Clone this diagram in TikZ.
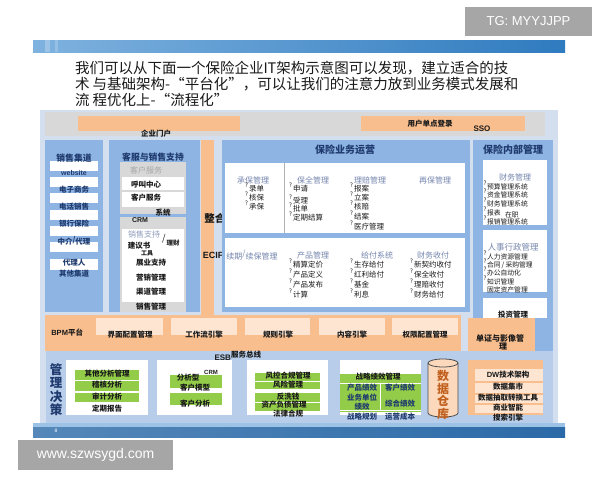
\documentclass[tikz,border=0pt]{standalone}
\usepackage{fontspec}
\setmainfont{Noto Sans CJK SC}
\newfontfamily\lat{Liberation Sans}
\definecolor{bgp}{HTML}{D3DEEE}
\definecolor{colblue}{HTML}{8EB4E3}
\definecolor{orng}{HTML}{F8BE8E}
\definecolor{lorng}{HTML}{FDE5D2}
\definecolor{grn}{HTML}{92CC48}
\definecolor{navy}{HTML}{1F3A6E}
\definecolor{sub}{HTML}{7485AD}
\definecolor{gry}{HTML}{D8D8D8}
\definecolor{panelB}{HTML}{B7CDEA}
\definecolor{slide}{HTML}{2F7BBF}
\definecolor{slideL}{HTML}{7FB2DF}
\definecolor{footer}{HTML}{2B6AA8}
\definecolor{footerL}{HTML}{9CC2E5}
\definecolor{wm}{HTML}{A6A6A6}
\definecolor{cyl}{HTML}{FCD9BC}
\definecolor{cyltext}{HTML}{C0601E}
\definecolor{txt}{HTML}{1A1A1A}
\tikzset{
 tx/.style={inner sep=0pt,outer sep=0pt,text=txt,font=\fontsize{8}{9}\selectfont},
 tb/.style={tx,font=\bfseries\fontsize{7.5}{8}\selectfont},
 c1/.style={tx,text=navy,font=\bfseries\fontsize{7.5}{8}\selectfont},
 ttl/.style={tx,text=navy,font=\bfseries\fontsize{8.8}{10}\selectfont},
 ttlb/.style={tx,text=navy,font=\bfseries\fontsize{10}{11}\selectfont},
 sbt/.style={tx,text=sub,font=\fontsize{8}{9}\selectfont},
 it/.style={tx,anchor=west,font=\fontsize{7.5}{8}\selectfont},
 its/.style={tx,anchor=west,font=\fontsize{6.8}{7}\selectfont},
 qm/.style={tx,font=\fontsize{6}{6}\selectfont},
 latb/.style={tx,text=navy,font=\lat\bfseries\fontsize{7}{8}\selectfont},
 hd/.style={tx,anchor=west,text=black!90,font=\fontsize{14.5}{15}\selectfont},
}
\begin{document}
\begin{tikzpicture}[x=1pt,y=-1pt]
\useasboundingbox (0,0) rectangle (600,480);
\fill[white] (0,0) rectangle (600,480);
% watermarks
\fill[wm] (465,7) rectangle (592,36);
\node[tx,text=white,font=\lat\fontsize{13}{13}\selectfont] (wm1) at (528.5,21.5) {TG: MYYJJPP};
\fill[wm] (18,440) rectangle (173,470);
\node[tx,text=white,font=\lat\fontsize{14}{14}\selectfont] (wm2) at (95.5,455) {www.szwsygd.com};
% slide top bar
\shade[left color=slideL,right color=slide] (33,40) rectangle (565,52);
\fill[white,opacity=0.25] (45,40) rectangle (50,52);
\fill[white,opacity=0.2] (55,40) rectangle (58,52);
% header text
\node[hd] (h1) at (75,68) {我们可以从下面一个保险企业IT架构示意图可以发现，建立适合的技};
\node[hd] (h2) at (75,84) {术\ 与基础架构-“平台化”，可以让我们的注意力放到业务模式发展和};
\node[hd] (h3) at (75,100) {流\ 程优化上-“流程化”};
% main panel
\fill[bgp] (40,110) rectangle (558,425);
\fill[gry] (45,112) rectangle (545,136);
\fill[orng] (78,116) rectangle (240,131);
\fill[orng] (361,116) rectangle (525,131);
\node[tb] (portal) at (156,134) {企业门户};
\node[tb] (sso1) at (430,124) {用户单点登录};
\node[latb,text=txt,font=\lat\bfseries\fontsize{8}{8}\selectfont] (sso2) at (482,129) {SSO};
% column 1
\fill[colblue] (45,140) rectangle (103,312);
\foreach \ya/\yb in {161/171,177/187,193/203,210/220,226/236,242/252,259/270} \fill[white] (50,\ya) rectangle (98,\yb);
\node[ttl] (c1t) at (74,158) {销售集道};
\node[latb] (c1a) at (74,173) {website};
\foreach \t/\yy [count=\i] in {电子商务/190,电话销售/207,银行保险/224,代理人/263,其他集道/274}
  \node[c1] (c1b\i) at (74,\yy) {\t};
\node[c1] (c1c) at (74,241) {中介\raisebox{2.5pt}{\itshape/}代理};
% column 2
\fill[colblue] (109,140) rectangle (200,312);
\fill[gry] (120,162) rectangle (186,214);
\fill[white] (122,177) rectangle (184,190);
\fill[white] (122,192) rectangle (184,207);
\fill[gry] (120,217) rectangle (186,312);
\fill[white] (122,229) rectangle (184,302);
\node[ttl] (c2t) at (153,157) {客服与销售支持};
\node[tx,text=black!35] (c2s1) at (146,170) {客户服务};
\foreach \t/\xx/\yy [count=\i] in {呼叫中心/146/185,客户服务/146/198,系统/163/213,展业支持/151/263,营销管理/151/278,渠道管理/151/292,销售管理/151/307}
  \node[tb] (c2i\i) at (\xx,\yy) {\t};
\node[latb,text=txt] (crm1) at (140,220) {CRM};
\node[tx,text=sub!80] (c2s2) at (144,234) {销售支持};
\node[tx,font=\itshape\fontsize{9}{9}\selectfont] (c2sl) at (164,239) {/};
\node[tb,font=\bfseries\fontsize{6.5}{7}\selectfont] (c2lc) at (173,243) {理财};
\node[tb] (c2jy) at (139,246) {建议书};
\node[tb,font=\bfseries\fontsize{6}{6}\selectfont] (c2gj) at (147,253) {工具};
% ECIF
\fill[orng] (201,140) rectangle (214,315);
\node[tx,text=black!90,font=\bfseries\fontsize{10.5}{11}\selectfont] (zh) at (220,218) {整合的};
\node[latb,text=black!90,font=\lat\bfseries\fontsize{9}{9}\selectfont] (ecif) at (213,255) {ECIF};
% column 3
\fill[colblue] (222,140) rectangle (470,312);
\fill[white] (225,163) rectangle (465,233);
\draw[gray!60] (284,163) -- (284,233);
\fill[white] (225,238) rectangle (465,307);
\node[ttlb] (c3t) at (345,150) {保险业务运营};
\foreach \t/\xx/\yy [count=\i] in {承保管理/253/180,保全管理/313/180,理赔管理/370/180,再保管理/435/180,产品管理/313/255,给付系统/377/255,财务收付/433/255}
  \node[sbt] (c3s\i) at (\xx,\yy) {\t};
\node[sbt] (c3s8) at (252,255) {续期\raisebox{3pt}{/}续保管理};
\foreach \t/\xx/\yy [count=\i] in {录单/249/189,核保/249/198,承保/249/207,申请/293/189,受理/293/201,批单/293/209,定期结算/293/218,报案/354/189,立案/354/198,核赔/354/207,结案/354/217,医疗管理/354/227,精算定价/293/265,产品定义/293/275,产品发布/293/285,计算/293/295,生存给付/354/265,红利给付/354/275,基金/354/285,利息/354/295,新契约收付/414/265,保全收付/414/275,理赔收付/414/285,财务给付/414/295}
  {\node[it] (c3i\i) at (\xx,\yy) {\t};
   \node[qm] (c3q\i) at (\xx-2.5,\yy-3.5) {?};}
% column 4
\fill[colblue] (473,140) rectangle (553,352);
\fill[white] (483,160) rectangle (547,225);
\fill[white] (483,230) rectangle (547,292);
\fill[white] (483,298) rectangle (547,318);
\fill[orng] (468,318) rectangle (535,352);
\node[ttlb] (c4t) at (513,150) {保险内部管理};
\node[sbt] (c4s1) at (515,177) {财务管理};
\node[sbt,font=\fontsize{8.5}{9}\selectfont] (c4s2) at (513,247) {人事行政管理};
\foreach \t/\yy [count=\i] in {预算管理系统/187,资金管理系统/195,财务管理系统/204,报表/213,报销管理系统/222,人力资源管理/257,办公自动化/273,知识管理/282}
  {\node[its] (c4i\i) at (487,\yy) {\t};
   \node[qm] (c4q\i) at (485,\yy-3.5) {?};}
\node[its] (c4ht) at (487,265) {合同\,/\,采购管理};
\node[qm] (c4qht) at (485,261.5) {?};
\node[its] (c4gd) at (487,290) {固定资产管理};
\node[its] (c4zz) at (505,215) {在职};
\node[tb] (c4tz) at (513,315) {投资管理};
\node[tb,font=\bfseries\fontsize{8}{8}\selectfont] (c4dz) at (500,338) {单证与影像管};
\node[tb,font=\bfseries\fontsize{8}{8}\selectfont] (c4dz2) at (503,346) {理};
% BPM band
\fill[orng] (45,315) rectangle (461,351);
\foreach \xa/\xb in {96/163,171/237,245/310,319/385,392/458} \fill[lorng] (\xa,318) rectangle (\xb,335);
\node[latb,text=txt,font=\lat\bfseries\fontsize{7.5}{8}\selectfont,anchor=east] (bpm1) at (68,333) {BPM};
\node[tb,anchor=west] (bpm2) at (68,333) {平台};
\foreach \t/\xx [count=\i] in {界面配置管理/130,工作流引擎/204,规则引擎/278,内容引擎/352,权限配置管理/425}
  \node[tb] (bpmi\i) at (\xx,335) {\t};
% bottom panel
\fill[panelB] (46,351) rectangle (553,423);
\node[latb,text=txt,font=\lat\bfseries\fontsize{8}{8}\selectfont,anchor=east] (esb1) at (231,358) {ESB};
\node[tb,anchor=west] (esb2) at (231,355) {服务总线};
\foreach \t/\yy [count=\i] in {管/370,理/383,决/397,策/410}
  \node[ttl,font=\bfseries\fontsize{12.5}{12.5}\selectfont] (gl\i) at (56,\yy) {\t};
% box 1
\fill[white] (66,360) rectangle (148,415);
\foreach \ya/\yb in {370/380,381/391,393/402} \fill[grn] (75,\ya) rectangle (139,\yb);
\foreach \t/\yy [count=\i] in {其他分析管理/374,稽核分析/385,审计分析/397,定期报告/409}
  \node[tb] (b1i\i) at (107,\yy) {\t};
% box 2
\fill[white] (157,360) rectangle (232,415);
\fill[grn] (170,375) rectangle (222,388);
\fill[grn] (170,393) rectangle (222,405);
\node[tb] (b2a) at (188,378) {分析型};
\node[latb,text=txt,font=\lat\bfseries\fontsize{6}{6}\selectfont] (b2c) at (211,372) {CRM};
\node[tb] (b2b) at (195,388) {客户模型};
\node[tb] (b2d) at (195,404) {客户分析};
% box 3
\fill[white] (247,360) rectangle (328,415);
\foreach \ya/\yb in {373/381,382/389,393/402,403/411} \fill[grn] (255,\ya) rectangle (320,\yb);
\foreach \t/\xx/\yy [count=\i] in {风控合规管理/288/376,风险管理/288/385,反洗钱/288/397,资产负债管理/284/405,法律合规/288/414}
  \node[tb] (b3i\i) at (\xx,\yy) {\t};
% box 4
\fill[white] (340,360) rectangle (421,415);
\fill[grn] (340,374) rectangle (421,412);
\draw[white,line width=0.8pt] (340,383) -- (421,383);
\draw[white,line width=0.8pt] (340,410) -- (421,410);
\draw[white,line width=0.8pt] (380,383) -- (380,410);
\node[tb] (b4t) at (378,377) {战略绩效管理};
\foreach \t/\xx/\yy [count=\i] in {产品绩效/362/388,客户绩效/400/388,业务单位/362/398,绩效/362/407,综合绩效/400/404,战略规划/362/417,运营成本/400/417}
  \node[tb,text=navy] (b4i\i) at (\xx,\yy) {\t};
% data warehouse cylinder
\draw[black!70,line width=0.8pt,fill=cyl] (428,363) -- (428,413) arc[start angle=180,end angle=360,x radius=15pt,y radius=4pt] -- (458,363) arc[start angle=0,end angle=180,x radius=15pt,y radius=4pt] -- cycle;
\draw[black!70,line width=0.8pt] (428,363) arc[start angle=180,end angle=360,x radius=15pt,y radius=4pt];
\foreach \t/\yy [count=\i] in {数/376,据/388.5,仓/401,库/413.5}
  \node[tx,text=cyltext,font=\bfseries\fontsize{12}{12}\selectfont] (dw\i) at (443,\yy) {\t};
% DW box
\fill[orng] (468,360) rectangle (543,415);
\foreach \ya/\yb in {369/381,383/393,395/403,405/413} \fill[lorng] (475,\ya) rectangle (543,\yb);
\node[tb] (dwt) at (508,375) {{\lat\bfseries DW}技术架构};
\foreach \t/\yy [count=\i] in {数据集市/387,数据抽取转换工具/398,商业智能/408,搜索引擎/418}
  \node[tb] (dwi\i) at (508,\yy) {\t};
% footer
\fill[footerL] (33,423) rectangle (565,427);
\shade[left color=footer!80,right color=footer] (33,427) rectangle (565,437);
\node[tx,text=white,font=\lat\fontsize{5}{5}\selectfont] (pg) at (56,431) {8};
\end{tikzpicture}
\end{document}
